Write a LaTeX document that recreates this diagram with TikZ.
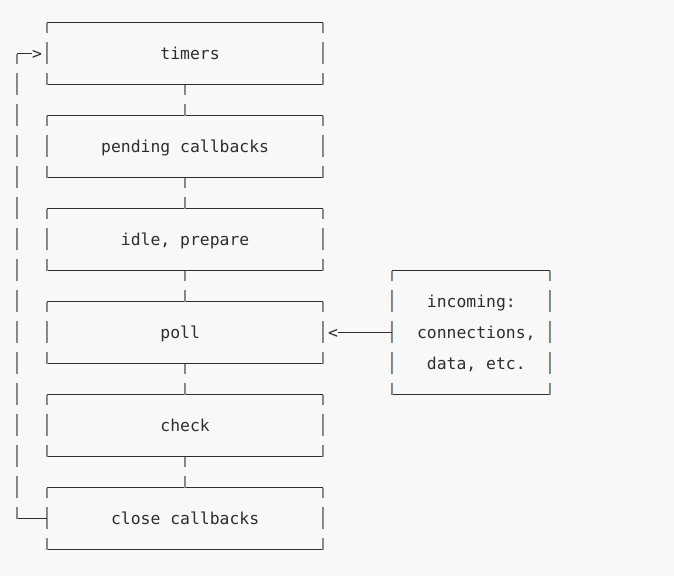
\documentclass[tikz,border=0pt]{standalone}
\usepackage{fontspec}
\setmonofont{DejaVu Sans Mono}
\definecolor{bg}{HTML}{F8F8F8}
\definecolor{ink}{HTML}{2E2E2E}
\definecolor{vor}{HTML}{B9782A}
\definecolor{vbl}{HTML}{4C9FE4}
\tikzset{
  hl/.style={draw=ink, line width=1pt},
  vo/.style={draw=vor, line width=1.2pt},
  vb/.style={draw=vbl, line width=1.2pt},
  lbl/.style={anchor=base west, inner sep=0pt, text=ink, font=\ttfamily\fontsize{16.4}{20}\selectfont},
}
% vertical bar segment in column #1, from row #2 to row #3 (orange left half, blue right half)
\newcommand{\vsg}[3]{%
  \pgfmathsetmacro{\vxo}{round(17.1+#1*9.87)-17.1-0.6}%
  \pgfmathsetmacro{\vxb}{round(17.1+#1*9.87)-17.1+0.6}%
  \draw[vo] ([xshift=\vxo pt]0,{#2}) -- ([xshift=\vxo pt]0,{#3});
  \draw[vb] ([xshift=\vxb pt]0,{#2}) -- ([xshift=\vxb pt]0,{#3});}
\begin{document}
\begin{tikzpicture}
\fill[bg] (0,0) rectangle (674pt,-576pt);
\useasboundingbox (0,0) rectangle (674pt,-576pt);
\begin{scope}[shift={(17.1pt,-22.5pt)}, x=9.87pt, y=-31pt]
  % six stage boxes
  \foreach \k in {0,...,5}{
    \pgfmathtruncatemacro{\a}{3*\k}
    \pgfmathtruncatemacro{\b}{3*\k+2}
    \draw[hl] (3,\a) -- (31,\a);
    \draw[hl] (3,\b) -- (31,\b);
    \foreach \c in {3,31}{
      \vsg{\c}{\a}{\a+0.332}
      \vsg{\c}{\a+1-0.371}{\a+1.332}
      \vsg{\c}{\b-0.371}{\b}
    }
  }
  % connectors between boxes
  \foreach \k in {0,...,4}{
    \pgfmathtruncatemacro{\b}{3*\k+2}
    \vsg{17}{\b}{\b+0.332}
    \vsg{17}{\b+1-0.371}{\b+1}
  }
  % loop line on the left
  \draw[hl] (0,1) -- (1.5,1);
  \draw[hl] (0,16) -- (3,16);
  \vsg{0}{1}{1.332}
  \foreach \r in {2,...,15}{ \vsg{0}{\r-0.371}{\r+0.332} }
  \vsg{0}{16-0.371}{16}
  % incoming box
  \draw[hl] (38,8) -- (54,8);
  \draw[hl] (38,12) -- (54,12);
  \foreach \c in {38,54}{
    \vsg{\c}{8}{8.332}
    \foreach \r in {9,10,11}{ \vsg{\c}{\r-0.371}{\r+0.332} }
    \vsg{\c}{12-0.371}{12}
  }
  \draw[hl] (32.54,10) -- (38,10);
  % arrow heads (text glyphs)
  \node[lbl] (ar1) at (1.5,1.194) {>};
  \node[lbl] (ar2) at (31.5,10.194) {<};
  % labels
  \node[lbl] (t1) at (14.5,1.194) {timers};
  \node[lbl] (t2) at (8.5,4.194) {pending callbacks};
  \node[lbl] (t3) at (10.5,7.194) {idle, prepare};
  \node[lbl] (t4) at (14.5,10.194) {poll};
  \node[lbl] (t5) at (14.5,13.194) {check};
  \node[lbl] (t6) at (9.5,16.194) {close callbacks};
  \node[lbl] (in1) at (41.5,9.194) {incoming:};
  \node[lbl] (in2) at (40.5,10.194) {connections,};
  \node[lbl] (in3) at (41.5,11.194) {data, etc.};
\end{scope}
\end{tikzpicture}
\end{document}
